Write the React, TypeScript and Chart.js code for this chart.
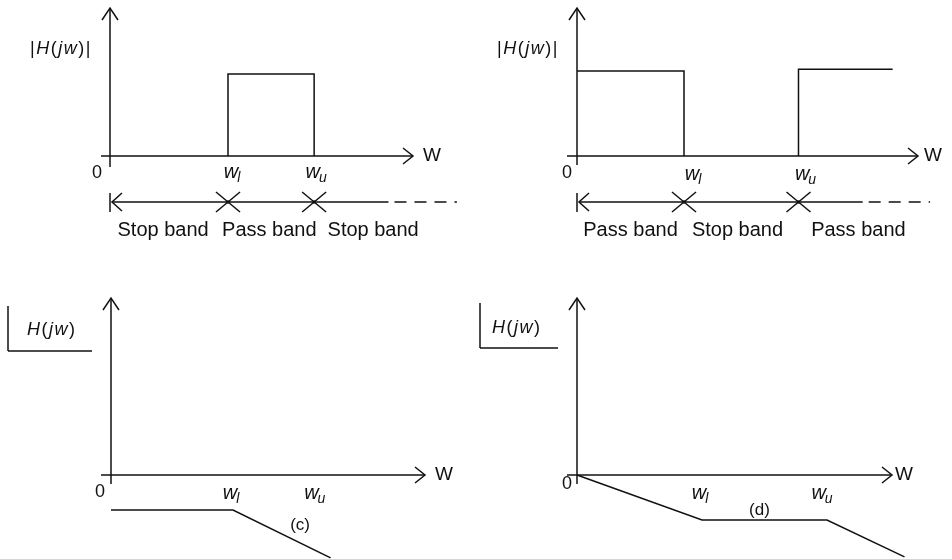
import React, { useEffect, useRef } from "react";
import { Chart, registerables } from "chart.js";

Chart.register(...registerables);

// ---------- DATA ----------
// (a) band-pass magnitude |H(jw)|
const bpFreq = [1.0, 1.0, 1.73, 1.73];
const bpMag = [0, 1, 1, 0];
const bpTicks = [1.0, 1.73];
const bpBands = ["Stop band", "Pass band", "Stop band"];
const bpBandPos = [0.45, 1.35, 2.23];

// (b) band-stop magnitude |H(jw)|
const bsLowFreq = [0, 1.0, 1.0];
const bsLowMag = [1, 1, 0];
const bsHighFreq = [2.07, 2.07, 2.95];
const bsHighMag = [0, 1.02, 1.02];
const bsTicks = [1.0, 2.07];
const bsBands = ["Pass band", "Stop band", "Pass band"];
const bsBandPos = [0.5, 1.5, 2.63];

// (c) phase
const cFreq = [0, 1.0, 1.8];
const cPhase = [-1, -1, -2.37];
const cTicks = [1.0, 1.67];

// (d) phase
const dFreq = [0, 1.0, 2.0, 2.62];
const dPhase = [0, -1, -1, -1.82];
const dTicks = [1.0, 2.0];

const tickSubs = ["l", "u"];

// ---------- helpers ----------
const FONT = '"Liberation Sans", Arial, Helvetica, sans-serif';
const INK = "#111";
const LW = 1.5;

function pts(xs: number[], ys: number[]) {
  return xs.map((x, i) => ({ x, y: ys[i] }));
}

function line(ctx: CanvasRenderingContext2D, x1: number, y1: number, x2: number, y2: number, dash: number[] = []) {
  ctx.save();
  ctx.setLineDash(dash);
  ctx.beginPath();
  ctx.moveTo(x1, y1);
  ctx.lineTo(x2, y2);
  ctx.stroke();
  ctx.restore();
}

type Seg = [string, boolean];
function drawSegs(ctx: CanvasRenderingContext2D, segs: Seg[], x: number, y: number, size: number, gap: number) {
  let cx = x;
  ctx.textBaseline = "middle";
  ctx.textAlign = "left";
  for (const [t, it] of segs) {
    ctx.font = `${it ? "italic " : ""}${size}px ${FONT}`;
    ctx.fillText(t, cx, y);
    cx += ctx.measureText(t).width + gap;
  }
}

function drawW(ctx: CanvasRenderingContext2D, sub: string, cx: number, y: number) {
  ctx.font = `italic 20px ${FONT}`;
  const ww = ctx.measureText("w").width;
  ctx.font = `italic 14px ${FONT}`;
  const sw = ctx.measureText(sub).width;
  const total = ww + sw - 1;
  const x0 = cx - total / 2;
  ctx.textAlign = "left";
  ctx.textBaseline = "middle";
  ctx.font = `italic 20px ${FONT}`;
  ctx.fillText("w", x0, y);
  ctx.font = `italic 14px ${FONT}`;
  ctx.fillText(sub, x0 + ww - 1, y + 6);
}

function text(ctx: CanvasRenderingContext2D, t: string, x: number, y: number, size: number, align: CanvasTextAlign = "center") {
  ctx.font = `${size}px ${FONT}`;
  ctx.textAlign = align;
  ctx.textBaseline = "middle";
  ctx.fillText(t, x, y);
}

interface PanelCfg {
  left: number;
  top: number;
  w: number;
  h: number;
  ox: number;
  oy: number;
  kx: number;
  ky: number;
  datasets: { x: number; y: number }[][];
  axisLeft: number;
  axisRight: number;
  axisTop: number;
  axisBottom: number;
  wDx: number;
  zero: [number, number];
  ticks: number[];
  tickDx: number[];
  tickDy: number;
  mag?: { x: number; y: number };
  phase?: { bx: number; by1: number; by2: number; bx2: number; tx: number; ty: number };
  bands?: { labels: string[]; pos: number[]; solidEnd: number; dashEnd: number };
  tag?: { t: string; x: number; y: number };
}

const panels: PanelCfg[] = [
  {
    left: 0, top: 0, w: 476, h: 280, ox: 110, oy: 156, kx: 118, ky: 82,
    datasets: [pts(bpFreq, bpMag)],
    axisLeft: -9, axisRight: 303, axisTop: -148, axisBottom: 11, wDx: 10,
    zero: [-13, 17], ticks: bpTicks, tickDx: [4, 2], tickDy: 16,
    mag: { x: 30, y: 49 },
    bands: { labels: bpBands, pos: bpBandPos, solidEnd: 2.36, dashEnd: 2.94 },
  },
  {
    left: 476, top: 0, w: 476, h: 280, ox: 101, oy: 156, kx: 107, ky: 85,
    datasets: [pts(bsLowFreq, bsLowMag), pts(bsHighFreq, bsHighMag)],
    axisLeft: -10, axisRight: 341, axisTop: -148, axisBottom: 9, wDx: 6,
    zero: [-10, 17], ticks: bsTicks, tickDx: [9, 7], tickDy: 18,
    mag: { x: 21, y: 49 },
    bands: { labels: bsBands, pos: bsBandPos, solidEnd: 2.67, dashEnd: 3.3 },
  },
  {
    left: 0, top: 280, w: 476, h: 279, ox: 111, oy: 195, kx: 122, ky: 35,
    datasets: [pts(cFreq, cPhase)],
    axisLeft: -10, axisRight: 314, axisTop: -177, axisBottom: 9, wDx: 10,
    zero: [-11, 17], ticks: cTicks, tickDx: [-2, 0], tickDy: 18,
    phase: { bx: 8, by1: 26, by2: 71, bx2: 92, tx: 27, ty: 50 },
    tag: { t: "(c)", x: 1.55, y: -1.43 },
  },
  {
    left: 476, top: 280, w: 476, h: 279, ox: 101, oy: 195, kx: 125, ky: 45,
    datasets: [pts(dFreq, dPhase)],
    axisLeft: -10, axisRight: 315, axisTop: -177, axisBottom: 9, wDx: 3,
    zero: [-10, 9], ticks: dTicks, tickDx: [-2, -5], tickDy: 18,
    phase: { bx: 4, by1: 23, by2: 68, bx2: 82, tx: 16, ty: 48 },
    tag: { t: "(d)", x: 1.46, y: -0.78 },
  },
];

function Panel({ cfg }: { cfg: PanelCfg }) {
  const ref = useRef<HTMLCanvasElement>(null);
  useEffect(() => {
    const c = cfg;
    const deco = {
      id: "deco",
      afterDatasetsDraw(chart: any) {
        const ctx: CanvasRenderingContext2D = chart.ctx;
        const xs = chart.scales.x;
        const ys = chart.scales.y;
        const X0 = xs.getPixelForValue(0);
        const Y0 = ys.getPixelForValue(0);
        ctx.save();
        ctx.strokeStyle = INK;
        ctx.fillStyle = INK;
        ctx.lineWidth = LW;
        ctx.lineCap = "butt";
        // x axis with arrow
        const xr = X0 + c.axisRight;
        line(ctx, X0 + c.axisLeft, Y0, xr, Y0);
        ctx.beginPath();
        ctx.moveTo(xr - 10, Y0 - 8);
        ctx.lineTo(xr, Y0);
        ctx.lineTo(xr - 10, Y0 + 8);
        ctx.stroke();
        // y axis with arrow
        const yt = Y0 + c.axisTop;
        line(ctx, X0, Y0 + c.axisBottom, X0, yt);
        ctx.beginPath();
        ctx.moveTo(X0 - 8, yt + 12);
        ctx.lineTo(X0, yt);
        ctx.lineTo(X0 + 8, yt + 12);
        ctx.stroke();
        // W label
        text(ctx, "W", xr + c.wDx, Y0, 19, "left");
        // zero
        text(ctx, "0", X0 + c.zero[0], Y0 + c.zero[1], 18);
        // tick labels
        c.ticks.forEach((t, i) => {
          drawW(ctx, tickSubs[i], xs.getPixelForValue(t) + c.tickDx[i], Y0 + c.tickDy);
        });
        // magnitude label
        if (c.mag) {
          drawSegs(ctx, [["|", false], ["H", true], ["(", false], ["j", true], ["w", true], [")", false], ["|", false]], c.mag.x, c.mag.y, 18, 1.5);
        }
        // phase label with angle bracket
        if (c.phase) {
          const p = c.phase;
          line(ctx, p.bx, p.by1, p.bx, p.by2);
          line(ctx, p.bx, p.by2, p.bx2, p.by2);
          drawSegs(ctx, [["H", true], ["(", false], ["j", true], ["w", true], [")", false]], p.tx, p.ty, 18, 1.5);
        }
        if (c.tag) {
          text(ctx, c.tag.t, xs.getPixelForValue(c.tag.x), ys.getPixelForValue(c.tag.y), 17);
        }
        // band annotation
        if (c.bands) {
          const b = c.bands;
          const yb = Y0 + 46;
          line(ctx, X0, yb - 9, X0, yb + 10);
          ctx.beginPath();
          ctx.moveTo(X0 + 12, yb - 9);
          ctx.lineTo(X0 + 2, yb);
          ctx.lineTo(X0 + 12, yb + 9);
          ctx.stroke();
          const xs1 = xs.getPixelForValue(b.solidEnd);
          line(ctx, X0 + 2, yb, xs1, yb);
          line(ctx, xs1 + 6, yb, xs.getPixelForValue(b.dashEnd), yb, [12, 8]);
          c.ticks.forEach((t) => {
            const px = xs.getPixelForValue(t);
            line(ctx, px - 12, yb - 10, px + 12, yb + 10);
            line(ctx, px - 12, yb + 10, px + 12, yb - 10);
            ctx.beginPath();
            ctx.arc(px, yb, 1.8, 0, Math.PI * 2);
            ctx.fill();
          });
          b.labels.forEach((l, i) => {
            text(ctx, l, xs.getPixelForValue(b.pos[i]), Y0 + 74, 20);
          });
        }
        ctx.restore();
      },
    };
    const chart = new Chart(ref.current!, {
      type: "scatter",
      data: {
        datasets: c.datasets.map((d) => ({
          data: d,
          showLine: true,
          borderColor: INK,
          borderWidth: LW,
          pointRadius: 0,
          pointHoverRadius: 0,
          tension: 0,
          fill: false,
          clip: false as any,
        })),
      },
      options: {
        animation: false,
        responsive: false,
        devicePixelRatio: 1,
        events: [],
        layout: { padding: 0 },
        plugins: { legend: { display: false }, title: { display: false }, tooltip: { enabled: false } },
        scales: {
          x: { type: "linear", display: false, min: -c.ox / c.kx, max: (c.w - c.ox) / c.kx },
          y: { type: "linear", display: false, min: -(c.h - c.oy) / c.ky, max: c.oy / c.ky },
        },
      },
      plugins: [deco],
    });
    return () => chart.destroy();
  }, [cfg]);
  return (
    <canvas
      ref={ref}
      width={cfg.w}
      height={cfg.h}
      style={{ position: "absolute", left: cfg.left, top: cfg.top, width: cfg.w, height: cfg.h, display: "block" }}
    />
  );
}

export default function App() {
  return (
    <div style={{ position: "fixed", left: 0, top: 0, width: 952, height: 559, background: "#fff", overflow: "hidden" }}>
      {panels.map((p, i) => (
        <Panel key={i} cfg={p} />
      ))}
    </div>
  );
}
